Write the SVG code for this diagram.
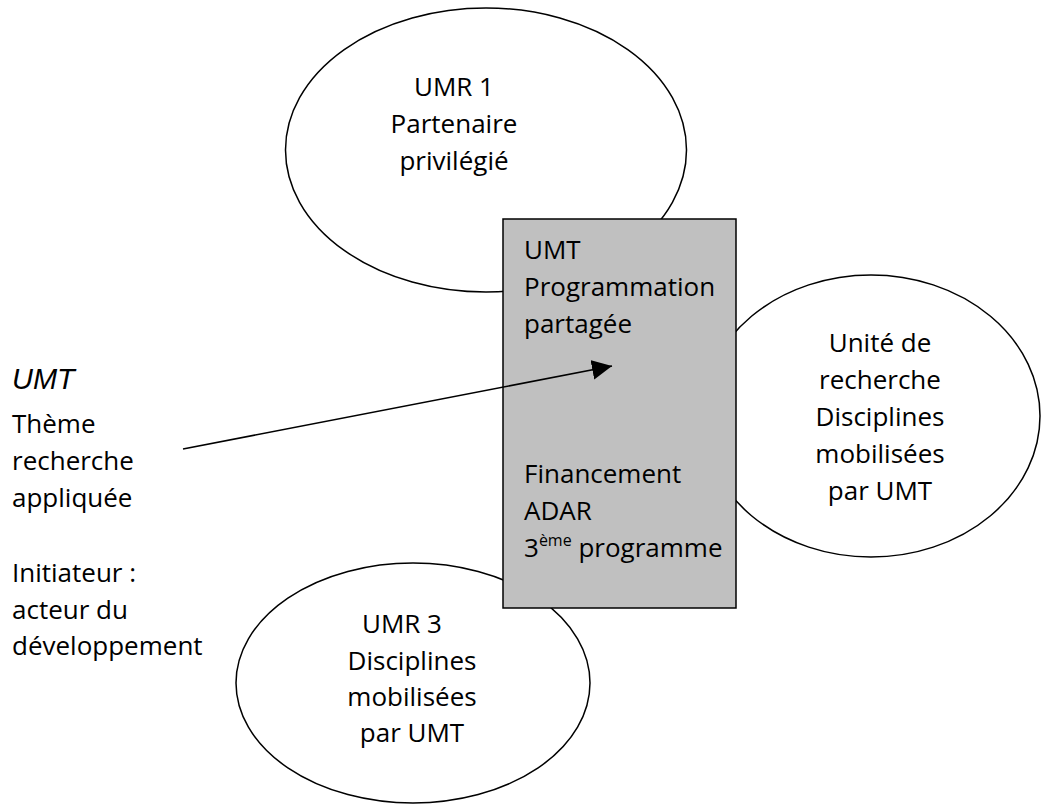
<svg xmlns="http://www.w3.org/2000/svg" width="1041" height="805" viewBox="0 0 1041 805">
<style>
.shape{fill:#ffffff;stroke:#000000;stroke-width:1.5}
.box{fill:#c0c0c0;stroke:#000000;stroke-width:1.5}
.t{font-family:"Open Sans","DejaVu Sans",sans-serif;font-size:26px;fill:#000000}
.c{text-anchor:middle}
.it{font-family:"Liberation Sans",Arial,sans-serif;font-style:italic;font-size:29px;fill:#000000}
.conn{stroke:#000000;stroke-width:1.5;fill:none}
</style>
<defs>
<marker id="arrow" markerWidth="20" markerHeight="20" refX="20" refY="10" orient="auto" markerUnits="userSpaceOnUse" viewBox="0 0 20 20">
<path d="M0,0 L20,10 L0,20 Z" fill="#000000"/>
</marker>
</defs>
<rect width="1041" height="805" fill="#ffffff"/>
<g id="umr1">
<ellipse class="shape" cx="486" cy="150" rx="200.5" ry="142"/>
<text class="t c" x="454" y="96">UMR 1</text>
<text class="t c" x="454" y="133">Partenaire</text>
<text class="t c" x="454" y="170">privilégié</text>
</g>
<g id="unite">
<ellipse class="shape" cx="871" cy="416" rx="169" ry="141"/>
<text class="t c" x="880" y="352">Unité de</text>
<text class="t c" x="880" y="389">recherche</text>
<text class="t c" x="880" y="426">Disciplines</text>
<text class="t c" x="880" y="463">mobilisées</text>
<text class="t c" x="880" y="500">par UMT</text>
</g>
<g id="umr3">
<ellipse class="shape" cx="413" cy="683" rx="177" ry="120"/>
<text class="t c" x="402" y="633">UMR 3</text>
<text class="t c" x="412" y="670">Disciplines</text>
<text class="t c" x="412" y="706">mobilisées</text>
<text class="t c" x="412" y="742">par UMT</text>
</g>
<g id="umt-box">
<rect class="box" x="503" y="219" width="233" height="389"/>
<text class="t" x="524" y="259">UMT</text>
<text class="t" x="524" y="296">Programmation</text>
<text class="t" x="524" y="333">partagée</text>
<text class="t" x="524" y="483">Financement</text>
<text class="t" x="524" y="520">ADAR</text>
<text class="t" x="524" y="557">3<tspan font-size="16" dy="-11">ème</tspan><tspan dy="11"> programme</tspan></text>
</g>
<g id="theme">
<text class="it" x="12" y="389">UMT</text>
<text class="t" x="12" y="433">Thème</text>
<text class="t" x="12" y="470">recherche</text>
<text class="t" x="12" y="507">appliquée</text>
<text class="t" x="12" y="582">Initiateur :</text>
<text class="t" x="12" y="619">acteur du</text>
<text class="t" x="12" y="655">développement</text>
</g>
<g id="connectors">
<line class="conn" x1="183" y1="449" x2="612" y2="366" marker-end="url(#arrow)"/>
</g>
</svg>
